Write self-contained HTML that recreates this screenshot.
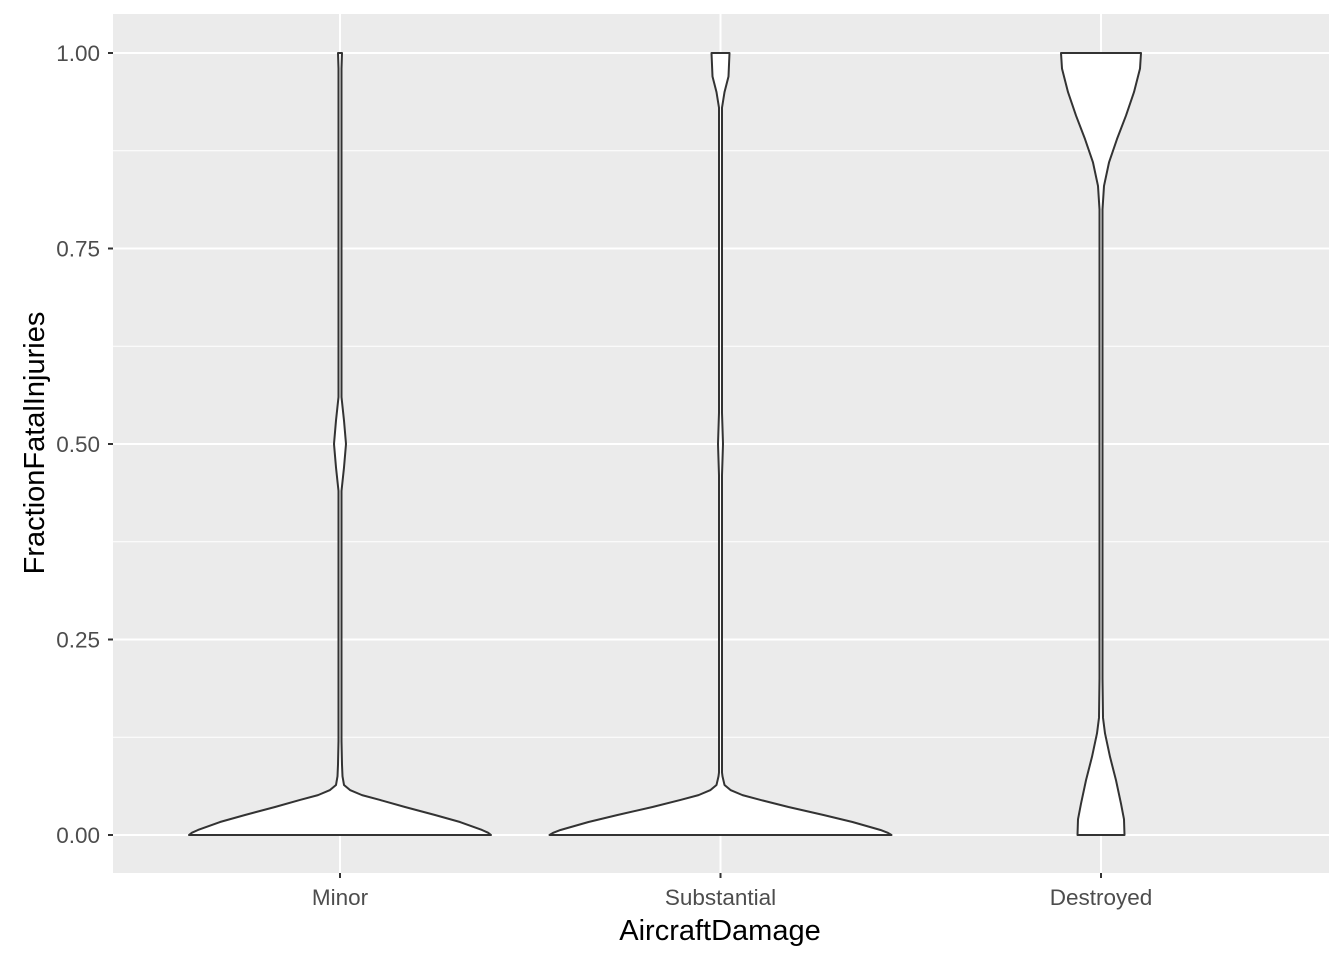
<!DOCTYPE html>
<html><head><meta charset="utf-8"><style>
body{margin:0;background:#fff;}
svg{display:block;font-family:"Liberation Sans",sans-serif;}
</style></head><body>
<svg id="chart" width="1344" height="960"></svg>
<script>
const categories=["Minor","Substantial","Destroyed"];
const yTicks=[0,0.25,0.5,0.75,1];
const yTickLabels=["0.00","0.25","0.50","0.75","1.00"];
// density profiles: [y, relative half-width]
const densMinor=[[0,151],[0.003,148],[0.0064,142],[0.0166,120],[0.0256,95],[0.0358,65],[0.0448,40],[0.051,22],[0.0575,10],[0.064,4],[0.075,2.5],[0.09,2],[0.12,1.5],[0.44,1.5],[0.47,4],[0.5,6],[0.53,4],[0.56,1.5],[0.98,1.5],[1,2]];
const densSubst=[[0,171],[0.003,167],[0.0064,160],[0.0166,132],[0.0256,103],[0.0358,68],[0.0448,40],[0.051,22],[0.0575,10],[0.064,4],[0.075,2],[0.08,1.5],[0.46,1.5],[0.5,2.5],[0.54,1.5],[0.93,1.5],[0.95,4],[0.97,8],[1,9]];
const densDestr=[[0,23.5],[0.02,23],[0.04,20],[0.07,15],[0.1,9],[0.13,4],[0.15,2],[0.2,1.5],[0.8,1.5],[0.83,3],[0.86,8],[0.89,16],[0.92,25],[0.95,33],[0.98,39],[1,40]];
const series=[densMinor,densSubst,densDestr];

const svg=document.getElementById('chart');
const NS='http://www.w3.org/2000/svg';
const L=113,R=1329,T=14,B=873;
const yS=v=>835-v*782;
const xS=i=>340+i*380.5;
function mk(t,a,p){const e=document.createElementNS(NS,t);for(const k in a)e.setAttribute(k,a[k]);(p||svg).appendChild(e);return e;}
const bg=mk('rect',{x:L,y:T,width:R-L,height:B-T,fill:'#ebebeb'});


for(let i=0;i<yTicks.length-1;i++){
  const m=(yTicks[i]+yTicks[i+1])/2;
  mk('line',{x1:L,x2:R,y1:yS(m),y2:yS(m),stroke:'#fff','stroke-width':1});
}
yTicks.forEach((v,i)=>{
  const g=mk('line',{x1:L,x2:R,y1:yS(v),y2:yS(v),stroke:'#fff','stroke-width':2});
  
  
  mk('line',{x1:L-5,x2:L,y1:yS(v),y2:yS(v),stroke:'#333','stroke-width':2});
  const t=mk('text',{x:L-13,y:yS(v)+8,'text-anchor':'end','font-size':22.5,fill:'#4d4d4d'});
  t.textContent=yTickLabels[i];
  
  
});
categories.forEach((c,i)=>{
  mk('line',{x1:xS(i),x2:xS(i),y1:T,y2:B,stroke:'#fff','stroke-width':2});
  mk('line',{x1:xS(i),x2:xS(i),y1:B,y2:B+5,stroke:'#333','stroke-width':2});
  const t=mk('text',{x:xS(i),y:905,'text-anchor':'middle','font-size':22.5,fill:'#4d4d4d'});
  t.textContent=c;
  
  
});
series.forEach((d,i)=>{
  const cx=xS(i);
  let right=d.map(p=>(cx+p[1])+','+yS(p[0]));
  let left=d.slice().reverse().map(p=>(cx-p[1])+','+yS(p[0]));
  const pg=mk('polygon',{points:right.concat(left).join(' '),fill:'#fff',stroke:'#333','stroke-width':2,'stroke-linejoin':'round'});
  
  
});
const xt=mk('text',{x:720,y:940,'text-anchor':'middle','font-size':29,fill:'#000'});
xt.textContent='AircraftDamage';


const yt=mk('text',{x:0,y:0,'text-anchor':'middle','font-size':29,fill:'#000',transform:'translate(44,443) rotate(-90)'});
yt.textContent='FractionFatalInjuries';


</script>
</body></html>
